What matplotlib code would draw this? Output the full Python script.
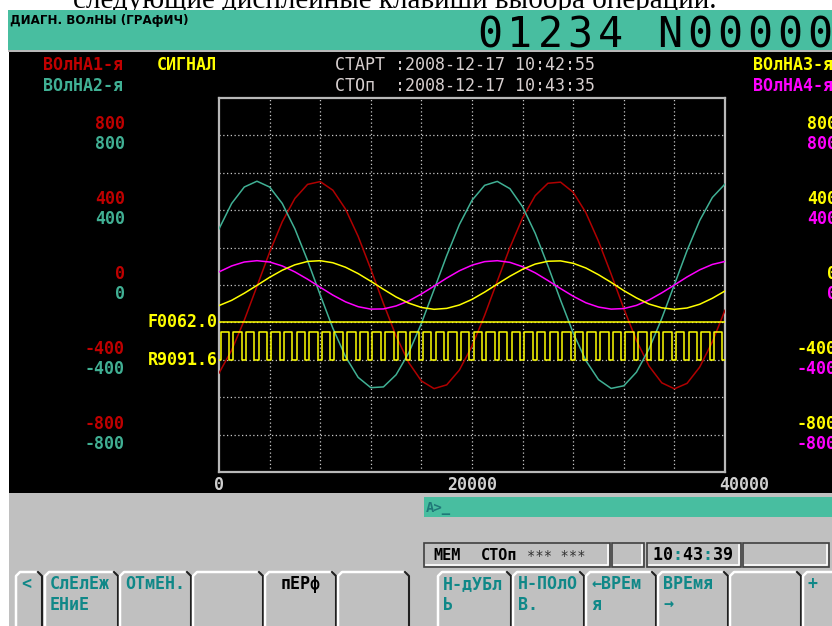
"""
FANUC waveform diagnosis screen (graph mode) redrawn with matplotlib
"""
import numpy as np
import matplotlib.pyplot as plt
import matplotlib.transforms as mtransforms
from matplotlib.patches import Rectangle

time_ms = np.arange(0, 40001, 1000)          # sample times, 0 .. 40 s

wave1_red = [-471, -349, -188, -7, 175, 338, 463, 538, 553, 507,
             406, 260, 85, -99, -273, -415, -513, -554, -534, -455,
             -327, -162, 21, 201, 359, 478, 544, 550, 496, 387,
             234, 58, -126, -296, -434, -523, -555, -526, -439, -304, -135]
wave2_teal = [300, 436, 524, 555, 524, 436, 300, 131, -53, -231,
              -383, -494, -549, -545, -480, -363, -205, -25, 157, 323,
              453, 533, 554, 515, 418, 276, 103, -81, -256, -404,
              -506, -553, -539, -466, -341, -179, 2, 184, 345, 468, 540]
wave3_yellow = [-110, -82, -44, -2, 41, 79, 108, 126, 130, 119,
                95, 61, 20, -23, -64, -97, -120, -130, -125, -107,
                -77, -38, 5, 47, 84, 112, 127, 129, 116, 91,
                55, 14, -30, -69, -102, -122, -130, -123, -103, -71, -32]
wave4_magenta = [70, 102, 123, 130, 123, 102, 70, 31, -12, -54,
                 -90, -116, -129, -128, -112, -85, -48, -6, 37, 76,
                 106, 125, 130, 121, 98, 65, 24, -19, -60, -95,
                 -118, -129, -126, -109, -80, -42, 0, 43, 81, 110, 126]

# digital signals: state per 1/3 of a 1000 ms cycle, first edge at 130 ms
sig_t0 = 130
sig_step = 1000 / 3
sig_F_name, sig_F_base, sig_F_bits = 'F0062.0', -200, '0'
sig_R_name, sig_R_base = 'R9091.6', -400
sig_R_bits = ('110110110110110110110110110110110110110110110110110110110110'
              '110110110110110110110110110110110110110110110110110110110110')
sig_high = 150

axis_values = [800, 400, 0, -400, -800]
x_ticks = [0, 20000, 40000]
x_ticklabels = ['0', '20000', '40000']

RED = '#c00000'
RED_LINE = '#b00000'
TEAL = '#40b094'
YELLOW = '#ffff00'
MAGENTA = '#ff00ff'
GREY_TXT = '#d8d0d0'
HEADER = '#48bea0'
PANEL = '#c0c0c0'
KEY_TXT = '#108888'
MONO = 'DejaVu Sans Mono'

fig = plt.figure(figsize=(8.32, 6.26), dpi=100, facecolor='white')

# ---- background in pixel coordinates --------------------------------------
bg = fig.add_axes([0, 0, 1, 1])
bg.set_xlim(0, 832)
bg.set_ylim(626, 0)
bg.axis('off')


def box(x0, y0, x1, y1, color, z=2):
    bg.add_patch(Rectangle((x0, y0), x1 - x0, y1 - y0, facecolor=color,
                           edgecolor='none', zorder=z))


def mono(x, y, s, color, size=12, ha='left', weight='bold', z=5):
    bg.text(x, y, s, color=color, family=MONO, fontsize=size, ha=ha,
            va='baseline', weight=weight, zorder=z)


# cut-off line of the manual above the screenshot
bg.text(395, 8, 'следующие дисплейные клавиши выбора операций.',
        family='Liberation Serif', fontsize=21, ha='center', va='baseline',
        zorder=1)

box(8, 10, 832, 50, HEADER)
box(8, 50, 832, 52, '#b8b8b8')
box(9, 52, 832, 493, 'black')
box(9, 493, 832, 626, PANEL)

bg.text(10, 24, 'ДИАГН. ВОлНЫ (ГРАфИЧ)', family='DejaVu Sans', weight='bold',
        fontsize=8.6, va='baseline', zorder=5)
for i, ch in enumerate('01234 N00000'):
    bg.text(490 + 30 * i, 47, ch, family=MONO, fontsize=30, ha='center',
            va='baseline', color='black', zorder=5)

# legend / time header
mono(43, 70, 'ВОлНА1-я', RED)
mono(43, 91, 'ВОлНА2-я', TEAL)
mono(157, 70, 'СИГНАЛ', YELLOW)
mono(335, 70, 'СТАРТ :2008-12-17 10:42:55', GREY_TXT, weight='normal')
mono(335, 91, 'СТОп  :2008-12-17 10:43:35', GREY_TXT, weight='normal')
mono(753, 70, 'ВОлНА3-я', YELLOW)
mono(753, 91, 'ВОлНА4-я', MAGENTA)

# input line
box(424, 497, 832, 517, HEADER)
mono(426, 512, 'A>_', '#207878', size=10)

# status boxes
for x0, x1 in [(424, 610), (612, 644), (647, 741), (743, 829)]:
    bg.add_patch(Rectangle((x0, 543), x1 - x0, 24, facecolor=PANEL,
                           edgecolor='#404040', lw=1.2, zorder=3))
    bg.plot([x0 + 2, x1 - 2, x1 - 2], [565, 565, 545], color='white',
            lw=1.2, zorder=4)
mono(433, 560, 'MEM', 'black', size=11)
mono(481, 560, 'СТОп', 'black', size=11)
mono(527, 560, '*** ***', '#303030', size=10, weight='normal')
mono(653, 560, '10 43 39', 'black', size=12)
mono(653, 560, '  :  :  ', KEY_TXT, size=12)

# soft keys
keys = [('<', 16, 42), ('СлЕлЕж\nЕНиЕ', 45, 118), ('ОТмЕН.', 120, 191),
        ('', 193, 263), ('пЕРф', 265, 336), ('', 338, 409),
        ('Н-дУБл\nЬ', 438, 511), ('Н-ПОлО\nВ.', 513, 584),
        ('←ВРЕм\nя', 586, 656), ('ВРЕмя\n→', 658, 728), ('', 730, 801),
        ('+', 803, 845)]
for label, x0, x1 in keys:
    top = 572
    bg.plot([x0, x0, x0 + 4, x1 - 4], [626, top + 4, top, top],
            color='white', lw=1.8, zorder=4)
    bg.plot([x1 - 4, x1, x1], [top, top + 4, 626], color='#202020',
            lw=1.5, zorder=4)
    lines = label.split('\n')
    for j, ln in enumerate(lines):
        if label == 'пЕРф':
            mono((x0 + x1) / 2, 589, ln, 'black', ha='center')
        else:
            mono(x0 + 5, 589 + 21 * j, ln, KEY_TXT)

# ---- waveform chart ---------------------------------------------------------
ax = fig.add_axes([219 / 832, 1 - 472 / 626, 506 / 832, 374 / 626])
ax.set_facecolor('black')
ax.set_xlim(0, 40000)
ax.set_ylim(-1000, 1000)
for s in ax.spines.values():
    s.set_color('#b8b8b8')
    s.set_linewidth(1.6)

for gx in range(4000, 40000, 4000):
    ax.axvline(gx, color='#c8c8c8', lw=0.9, ls=(0, (1, 2)), zorder=1)
for gy in range(-800, 1000, 200):
    ax.axhline(gy, color='#c8c8c8', lw=0.9, ls=(0, (1, 2)), zorder=1)

ax.plot(time_ms, wave1_red, color=RED_LINE, lw=1.1, zorder=3)
ax.plot(time_ms, wave2_teal, color=TEAL, lw=1.1, zorder=3)
ax.plot(time_ms, wave4_magenta, color=MAGENTA, lw=1.1, zorder=3)
ax.plot(time_ms, wave3_yellow, color=YELLOW, lw=1.1, zorder=3)

# digital signals
ax.plot([0, 40000], [sig_F_base + sig_high * int(sig_F_bits[0])] * 2,
        color=YELLOW, lw=1.1, zorder=4)
r_t = [0] + [sig_t0 + sig_step * i for i in range(len(sig_R_bits))] + [40000]
r_v = ([sig_R_base]
       + [sig_R_base + sig_high * int(b) for b in sig_R_bits]
       + [sig_R_base + sig_high * int(sig_R_bits[-1])])
ax.step(r_t, r_v, where='post', color=YELLOW, lw=1.1, zorder=4)

ax.set_xticks(x_ticks)
ax.set_xticklabels(x_ticklabels, family=MONO, weight='bold', fontsize=12,
                   color='#d0d0d0')
ax.set_yticks([])
ax.tick_params(axis='x', length=0, pad=3)
last = ax.get_xticklabels()[-1]
last.set_ha('left')
last.set_transform(last.get_transform()
                   + mtransforms.ScaledTranslation(-6 / 100, 0, fig.dpi_scale_trans))

# per-channel scale labels left (waves 1/2) and right (waves 3/4)
blend = mtransforms.blended_transform_factory(ax.transAxes, ax.transData)
upper = mtransforms.offset_copy(blend, fig=fig, y=11, units='dots')
lower = mtransforms.offset_copy(blend, fig=fig, y=-9, units='dots')
for v in axis_values:
    kw = dict(family=MONO, weight='bold', fontsize=12, va='center',
              ha='right', clip_on=False)
    ax.text(-0.186, v, str(v), color=RED, transform=upper, **kw)
    ax.text(-0.186, v, str(v), color=TEAL, transform=lower, **kw)
    ax.text(1.221, v, str(v), color=YELLOW, transform=upper, **kw)
    ax.text(1.221, v, str(v), color=MAGENTA, transform=lower, **kw)

# signal names
for name, base in [(sig_F_name, sig_F_base), (sig_R_name, sig_R_base)]:
    ax.text(-0.003, base, name, color=YELLOW, family=MONO, weight='bold',
            fontsize=12, va='center', ha='right', transform=blend,
            clip_on=False)

fig.savefig('out.png', dpi=100)
